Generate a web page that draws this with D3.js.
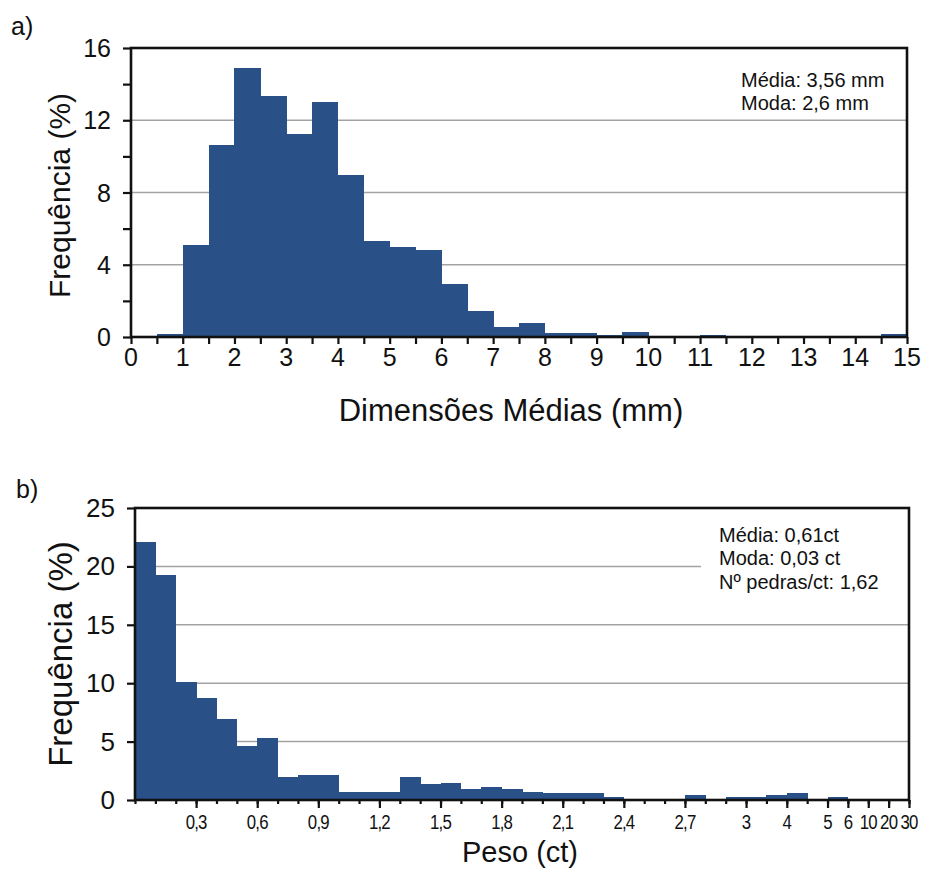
<!DOCTYPE html>
<html lang="pt">
<head>
<meta charset="UTF-8">
<title>Histogramas - dimensões e peso</title>
<script src="https://d3js.org/d3.v7.min.js"></script>
<style>
    body { margin: 0; background: #fff; }
    text { font-family: "Liberation Sans", Arial, Helvetica, sans-serif; fill: #111; }
    .grid line { stroke: #a3a3a3; stroke-width: 1.5px; }
    .frame { fill: none; stroke: #111; stroke-width: 2.6px; }
    .axis line { stroke: #111; stroke-width: 2.2px; }
    .bar { fill: #2a5088; shape-rendering: crispEdges; }
</style>
</head>
<body>
<svg id="chart" width="926" height="873"></svg>
<script>
    // a) tamanho medio (mm), classes de 0,5 mm
    const sizeStart = [0, 0.5, 1, 1.5, 2, 2.5, 3, 3.5, 4, 4.5, 5, 5.5, 6, 6.5, 7, 7.5,
        8, 8.5, 9, 9.5, 10, 10.5, 11, 11.5, 12, 12.5, 13, 13.5, 14, 14.5];
    const sizeFreq = [0, 0.15, 5.1, 10.65, 14.9, 13.35, 11.25, 13.0, 8.95, 5.3, 5.0, 4.8,
        2.95, 1.45, 0.55, 0.75, 0.2, 0.2, 0.1, 0.25, 0, 0, 0.12, 0, 0, 0, 0, 0, 0, 0.15];
    const sizeTicks = [0, 1, 2, 3, 4, 5, 6, 7, 8, 9, 10, 11, 12, 13, 14, 15];
    const sizeYTicks = [0, 4, 8, 12, 16];
    const sizeNotes = ["Média: 3,56 mm", "Moda: 2,6 mm"];

    // b) peso (ct), classes de largura desigual
    const weightEdges = [0, 0.1, 0.2, 0.3, 0.4, 0.5, 0.6, 0.7, 0.8, 0.9, 1.0, 1.1, 1.2, 1.3,
        1.4, 1.5, 1.6, 1.7, 1.8, 1.9, 2.0, 2.1, 2.2, 2.3, 2.4, 2.5, 2.6, 2.7, 2.8, 2.9, 3.0,
        3.5, 4, 4.5, 5, 6, 10, 20, 30];
    const weightFreq = [22.1, 19.25, 10.13, 8.76, 6.96, 4.65, 5.28, 2.0, 2.1, 2.1, 0.71, 0.71,
        0.71, 2.0, 1.37, 1.46, 0.92, 1.14, 0.92, 0.71, 0.57, 0.57, 0.57, 0.29, 0, 0, 0, 0.43,
        0, 0.29, 0.29, 0.43, 0.63, 0, 0.29, 0, 0, 0];
    const weightTicks = [0.3, 0.6, 0.9, 1.2, 1.5, 1.8, 2.1, 2.4, 2.7, 3.0, 4, 5, 6, 10, 20, 30];
    const weightTickLabels = ["0,3", "0,6", "0,9", "1,2", "1,5", "1,8", "2,1", "2,4", "2,7",
        "3", "4", "5", "6", "10", "20", "30"];
    const weightYTicks = [0, 5, 10, 15, 20, 25];
    const weightNotes = ["Média: 0,61ct", "Moda: 0,03 ct", "Nº pedras/ct: 1,62"];

    const svg = d3.select("#chart");

    // ---------- a) ----------
    const a = { left: 131, top: 48, right: 907, bottom: 337 };
    const xa = d3.scaleLinear().domain([0, 15]).range([a.left, a.right]);
    const ya = d3.scaleLinear().domain([0, 16]).range([a.bottom, a.top]);
    const ga = svg.append("g");

    ga.append("g").attr("class", "grid")
        .selectAll("line").data(sizeYTicks.filter(d => d > 0 && d < 16)).join("line")
        .attr("x1", a.left).attr("x2", a.right)
        .attr("y1", d => ya(d)).attr("y2", d => ya(d));

    ga.selectAll("rect.bar").data(sizeStart).join("rect")
        .attr("class", "bar")
        .attr("x", d => xa(d))
        .attr("width", d => xa(d + 0.5) - xa(d) + 0.5)
        .attr("y", (d, i) => ya(sizeFreq[i]))
        .attr("height", (d, i) => ya(0) - ya(sizeFreq[i]));

    // ticks
    const axA = ga.append("g").attr("class", "axis")
        .attr("transform", `translate(0,${a.bottom})`)
        .call(d3.axisBottom(xa).tickValues(d3.range(0, 15.01, 0.5)).tickSize(7).tickFormat(""));
    axA.select(".domain").remove();
    ga.append("g")
        .selectAll("text").data(sizeTicks).join("text")
        .attr("x", d => xa(d)).attr("y", 366)
        .attr("text-anchor", "middle").style("font-size", "25px")
        .text(d => d);

    const ayA = ga.append("g").attr("class", "axis")
        .attr("transform", `translate(${a.left},0)`)
        .call(d3.axisLeft(ya).tickValues(d3.range(0, 16.01, 2)).tickSize(8).tickFormat(""));
    ayA.select(".domain").remove();
    ga.append("g")
        .selectAll("text").data(sizeYTicks).join("text")
        .attr("x", 111).attr("y", d => ya(d) + 9)
        .attr("text-anchor", "end").style("font-size", "25px")
        .text(d => d);

    ga.append("rect").attr("class", "frame")
        .attr("x", a.left).attr("y", a.top)
        .attr("width", a.right - a.left).attr("height", a.bottom - a.top);

    ga.append("g").selectAll("text").data(sizeNotes).join("text")
        .attr("x", 741).attr("y", (d, i) => 87 + i * 23)
        .style("font-size", "20px").text(d => d);

    ga.append("text").attr("x", 511).attr("y", 421)
        .attr("text-anchor", "middle").style("font-size", "31px")
        .text("Dimensões Médias (mm)");
    ga.append("text")
        .attr("transform", `translate(70,${(a.top + a.bottom) / 2 + 3}) rotate(-90)`)
        .attr("text-anchor", "middle").style("font-size", "30px")
        .text("Frequência (%)");
    ga.append("text").attr("x", 11).attr("y", 35).style("font-size", "25px").text("a)");

    // ---------- b) ----------
    const b = { left: 135, top: 508, right: 909, bottom: 800 };
    const xb = d3.scalePoint().domain(weightEdges).range([b.left, b.right]);
    const yb = d3.scaleLinear().domain([0, 25]).range([b.bottom, b.top]);
    const gb = svg.append("g");

    gb.append("g").attr("class", "grid")
        .selectAll("line").data(weightYTicks.filter(d => d > 0 && d < 25)).join("line")
        .attr("x1", b.left).attr("x2", b.right)
        .attr("y1", d => yb(d)).attr("y2", d => yb(d));

    gb.selectAll("rect.bar").data(weightFreq).join("rect")
        .attr("class", "bar")
        .attr("x", (d, i) => xb(weightEdges[i]))
        .attr("width", (d, i) => xb(weightEdges[i + 1]) - xb(weightEdges[i]) + 0.5)
        .attr("y", d => yb(d))
        .attr("height", d => yb(0) - yb(d));

    const axB = gb.append("g").attr("class", "axis")
        .attr("transform", `translate(0,${b.bottom})`)
        .call(d3.axisBottom(xb).tickSize(4).tickFormat(""));
    axB.select(".domain").remove();
    const axB2 = gb.append("g").attr("class", "axis")
        .attr("transform", `translate(0,${b.bottom})`)
        .call(d3.axisBottom(xb).tickValues(weightTicks).tickSize(8).tickFormat(""));
    axB2.select(".domain").remove();

    gb.append("g")
        .selectAll("text").data(weightTicks).join("text")
        .attr("transform", d => `translate(${xb(d)},829) scale(0.8,1)`)
        .attr("text-anchor", "middle").style("font-size", "21px")
        .attr("letter-spacing", "-1px")
        .text((d, i) => weightTickLabels[i]);

    const ayB = gb.append("g").attr("class", "axis")
        .attr("transform", `translate(${b.left},0)`)
        .call(d3.axisLeft(yb).tickValues(weightYTicks).tickSize(8).tickFormat(""));
    ayB.select(".domain").remove();
    gb.append("g")
        .selectAll("text").data(weightYTicks).join("text")
        .attr("x", 115).attr("y", d => yb(d) + 9)
        .attr("text-anchor", "end").style("font-size", "26px")
        .text(d => d);

    // caixa branca da legenda corta a grelha
    gb.append("rect").attr("x", 701).attr("y", 518)
        .attr("width", b.right - 701).attr("height", 78).attr("fill", "#fff");

    gb.append("rect").attr("class", "frame")
        .attr("x", b.left).attr("y", b.top)
        .attr("width", b.right - b.left).attr("height", b.bottom - b.top);

    gb.append("g").selectAll("text").data(weightNotes).join("text")
        .attr("x", 719).attr("y", (d, i) => 542 + i * 23.3)
        .style("font-size", "20px").text(d => d);

    gb.append("text").attr("x", 520).attr("y", 862)
        .attr("text-anchor", "middle").style("font-size", "29px")
        .text("Peso (ct)");
    gb.append("text")
        .attr("transform", `translate(72,${(b.top + b.bottom) / 2}) rotate(-90)`)
        .attr("text-anchor", "middle").style("font-size", "33px")
        .text("Frequência (%)");
    gb.append("text").attr("x", 16).attr("y", 498).style("font-size", "25px").text("b)");
</script>
</body>
</html>
